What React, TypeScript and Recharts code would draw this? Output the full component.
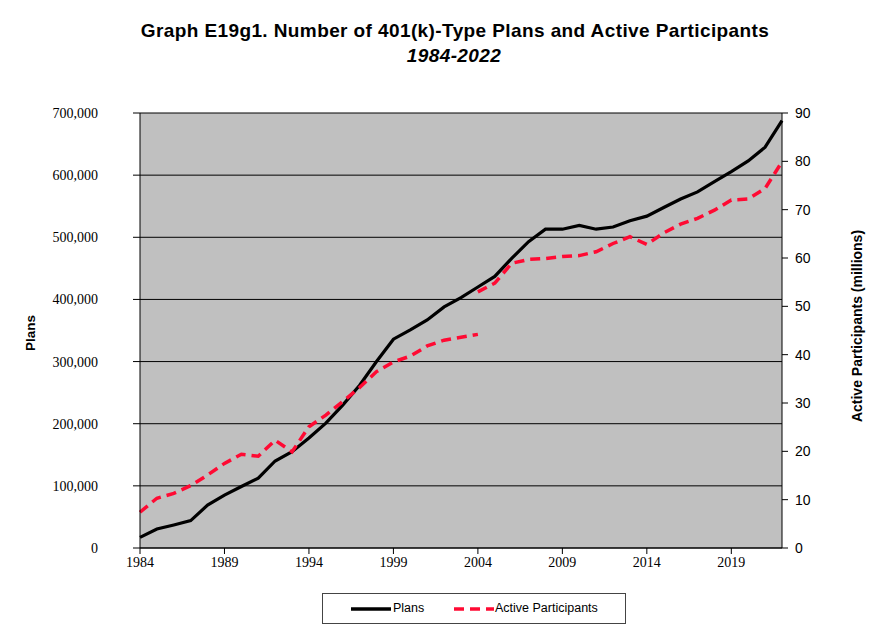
import React from 'react';
import { LineChart, Line, XAxis, YAxis, CartesianGrid } from 'recharts';

const years = [
  1984, 1985, 1986, 1987, 1988, 1989, 1990, 1991, 1992, 1993,
  1994, 1995, 1996, 1997, 1998, 1999, 2000, 2001, 2002, 2003,
  2004, 2005, 2006, 2007, 2008, 2009, 2010, 2011, 2012, 2013,
  2014, 2015, 2016, 2017, 2018, 2019, 2020, 2021, 2022,
];

// number of plans
const plans = [
  17000, 30600, 37000, 44000, 69000, 85000, 99000, 112500, 140000, 155000,
  177000, 201000, 230000, 262000, 300000, 336000, 351000, 367000, 388000, 403000,
  420000, 437000, 466000, 493000, 513000, 513000, 519000, 513000, 516600, 526700,
  534000, 548000, 561600, 573000, 589500, 605600, 622800, 645000, 687600,
];

// active participants (millions), old series 1984-2004
const participantsOldYears = years.slice(0, 21);
const participantsOld = [
  7.4, 10.3, 11.3, 12.9, 15.1, 17.5, 19.4, 19.0, 22.3, 19.9,
  25.1, 27.5, 30.3, 33.2, 36.5, 38.5, 39.7, 41.8, 43.0, 43.6,
  44.2,
];

// active participants (millions), new series 2004-2022
const participantsNewYears = years.slice(20);
const participantsNew = [
  53.0, 54.8, 58.9, 59.7, 59.9, 60.3, 60.5, 61.3, 63.0, 64.4,
  62.8, 65.2, 67.0, 68.2, 69.9, 72.0, 72.2, 74.4, 79.9,
];

const xTicks = [1984, 1989, 1994, 1999, 2004, 2009, 2014, 2019];
const planTicks = [0, 100000, 200000, 300000, 400000, 500000, 600000, 700000];
const partTicks = [0, 10, 20, 30, 40, 50, 60, 70, 80, 90];

const data = years.map((year, i) => {
  const oi = participantsOldYears.indexOf(year);
  const ni = participantsNewYears.indexOf(year);
  return {
    year,
    plans: plans[i],
    partOld: oi >= 0 ? participantsOld[oi] : null,
    partNew: ni >= 0 ? participantsNew[ni] : null,
  };
});

const RED = '#FF0A33';
const SANS = 'Arial, "Liberation Sans", sans-serif';
const SERIF = '"Times New Roman", "Liberation Serif", serif';

export default function App() {
  return (
    <div style={{ position: 'absolute', left: 0, top: 0, width: 881, height: 627, background: '#fff' }}>
      <div style={{ position: 'absolute', left: 0, width: 910, top: 20, textAlign: 'center', fontFamily: SANS, fontWeight: 'bold', fontSize: 19, letterSpacing: 0.4 }}>
        Graph E19g1. Number of 401(k)-Type Plans and Active Participants
      </div>
      <div style={{ position: 'absolute', left: 0, width: 908, top: 45, textAlign: 'center', fontFamily: SANS, fontWeight: 'bold', fontStyle: 'italic', fontSize: 19, letterSpacing: 0.4 }}>
        1984-2022
      </div>

      <LineChart
        width={881}
        height={627}
        data={data}
        margin={{ top: 113, right: 39, bottom: 49, left: 40 }}
      >
        <CartesianGrid yAxisId="left" vertical={false} fill="#C0C0C0" stroke="#000" strokeWidth={1} />
        <XAxis
          dataKey="year"
          type="number"
          domain={[1984, 2022]}
          ticks={xTicks}
          height={30}
          axisLine={{ stroke: '#000' }}
          tickLine={{ stroke: '#000' }}
          tickSize={6}
          tickMargin={3}
          tick={{ fill: '#000', fontFamily: SERIF, fontSize: 14 }}
        />
        <YAxis
          yAxisId="left"
          domain={[0, 700000]}
          ticks={planTicks}
          width={100}
          axisLine={{ stroke: '#000' }}
          tickLine={{ stroke: '#000' }}
          tickSize={7}
          tickMargin={35}
          tickFormatter={(v: number) => v.toLocaleString('en-US')}
          tick={{ fill: '#000', fontFamily: SERIF, fontSize: 14 }}
        />
        <YAxis
          yAxisId="right"
          orientation="right"
          domain={[0, 90]}
          ticks={partTicks}
          width={60}
          axisLine={{ stroke: '#000' }}
          tickLine={{ stroke: '#000' }}
          tickSize={6}
          tickMargin={7}
          tick={{ fill: '#000', fontFamily: SANS, fontSize: 14 }}
        />
        <Line
          yAxisId="left"
          dataKey="plans"
          stroke="#000"
          strokeWidth={3.2}
          dot={false}
          isAnimationActive={false}
        />
        <Line
          yAxisId="right"
          dataKey="partOld"
          stroke={RED}
          strokeWidth={3.5}
          strokeDasharray="10 6"
          dot={false}
          connectNulls={false}
          isAnimationActive={false}
        />
        <Line
          yAxisId="right"
          dataKey="partNew"
          stroke={RED}
          strokeWidth={3.5}
          strokeDasharray="10 6"
          dot={false}
          connectNulls={false}
          isAnimationActive={false}
        />
      </LineChart>

      <div style={{ position: 'absolute', left: 30, top: 333, transform: 'translate(-50%, -50%) rotate(-90deg)', fontFamily: SANS, fontWeight: 'bold', fontSize: 13.5, whiteSpace: 'nowrap' }}>
        Plans
      </div>
      <div style={{ position: 'absolute', left: 857, top: 326, transform: 'translate(-50%, -50%) rotate(-90deg)', fontFamily: SANS, fontWeight: 'bold', fontSize: 14, whiteSpace: 'nowrap' }}>
        Active Participants (millions)
      </div>

      <div style={{ position: 'absolute', left: 322, top: 593, width: 304, height: 31, border: '1px solid #444', boxSizing: 'border-box', fontFamily: SANS, fontSize: 12.5 }}>
        <svg width={40} height={6} style={{ position: 'absolute', left: 28, top: 12 }}>
          <line x1={0} y1={3} x2={40} y2={3} stroke="#000" strokeWidth={3.5} />
        </svg>
        <span style={{ position: 'absolute', left: 70, top: 7 }}>Plans</span>
        <svg width={40} height={6} style={{ position: 'absolute', left: 131, top: 12 }}>
          <line x1={0} y1={3} x2={40} y2={3} stroke={RED} strokeWidth={3.5} strokeDasharray="10 6" />
        </svg>
        <span style={{ position: 'absolute', left: 172, top: 7 }}>Active Participants</span>
      </div>
    </div>
  );
}
